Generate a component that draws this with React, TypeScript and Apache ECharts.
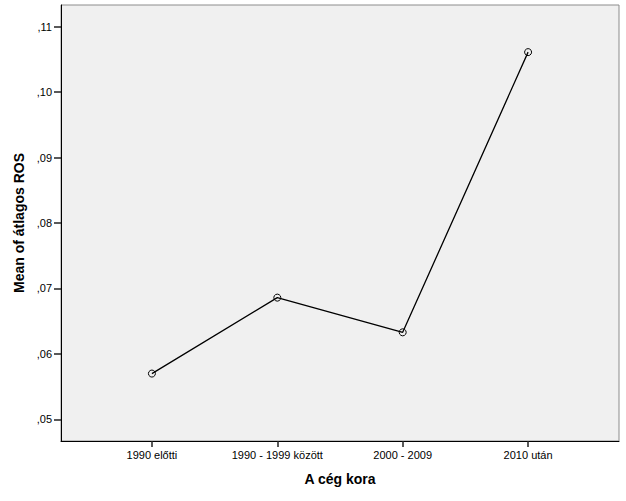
import React, { useEffect, useRef } from "react";
import * as echarts from "echarts";

const categories = ["1990 előtti", "1990 - 1999 között", "2000 - 2009", "2010 után"];
const meanValues = [0.057, 0.0686, 0.0633, 0.1061];
const yTicks = [0.05, 0.06, 0.07, 0.08, 0.09, 0.1, 0.11];
const xTicks = [0, 1, 2, 3];

const FONT = "Arial, 'Liberation Sans', sans-serif";

export default function App() {
  const ref = useRef<HTMLDivElement>(null);
  useEffect(() => {
    if (!ref.current) return;
    const chart = echarts.init(ref.current, undefined, { renderer: "svg" });
    chart.setOption({
      animation: false,
      backgroundColor: "#ffffff",
      textStyle: { fontFamily: FONT },
      grid: {
        left: 61,
        top: 5,
        right: 7,
        bottom: 60,
        show: true,
        backgroundColor: "#f0f0f0",
        borderColor: "#8c8c8c",
        borderWidth: 1,
      },
      xAxis: {
        type: "value",
        min: -0.725,
        max: 3.725,
        splitLine: { show: false },
        axisLine: { show: true, onZero: false, lineStyle: { color: "#000", width: 1 } },
        axisTick: { show: true, length: 6, customValues: xTicks, lineStyle: { color: "#222", width: 1.5 } },
        axisLabel: {
          customValues: xTicks,
          formatter: (v: number) => categories[Math.round(v)] ?? "",
          color: "#000",
          fontSize: 11,
          fontFamily: FONT,
          margin: 8,
        },
        name: "A cég kora",
        nameLocation: "middle",
        nameGap: 31,
        nameTextStyle: { fontSize: 14, fontWeight: "bold", color: "#000", fontFamily: FONT },
      },
      yAxis: {
        type: "value",
        min: 0.0467,
        max: 0.1133,
        splitLine: { show: false },
        axisLine: { show: true, onZero: false, lineStyle: { color: "#000", width: 1 } },
        axisTick: { show: true, length: 7, customValues: yTicks, lineStyle: { color: "#222", width: 1.5 } },
        axisLabel: {
          customValues: yTicks,
          formatter: (v: number) => "," + v.toFixed(2).split(".")[1],
          color: "#000",
          fontSize: 11,
          fontFamily: FONT,
          margin: 9,
        },
        name: "Mean of átlagos ROS",
        nameLocation: "middle",
        nameGap: 33,
        nameTextStyle: { fontSize: 14, fontWeight: "bold", color: "#000", fontFamily: FONT },
      },
      series: [
        {
          type: "line",
          data: meanValues.map((v, i) => [i, v]),
          symbol: "circle",
          symbolSize: 7,
          itemStyle: { color: "rgba(0,0,0,0)", borderColor: "#000", borderWidth: 1 },
          lineStyle: { color: "#000", width: 1.3 },
        },
      ],
    });
    return () => chart.dispose();
  }, []);
  return <div ref={ref} style={{ position: "fixed", left: 0, top: 0, width: 626, height: 501 }} />;
}
